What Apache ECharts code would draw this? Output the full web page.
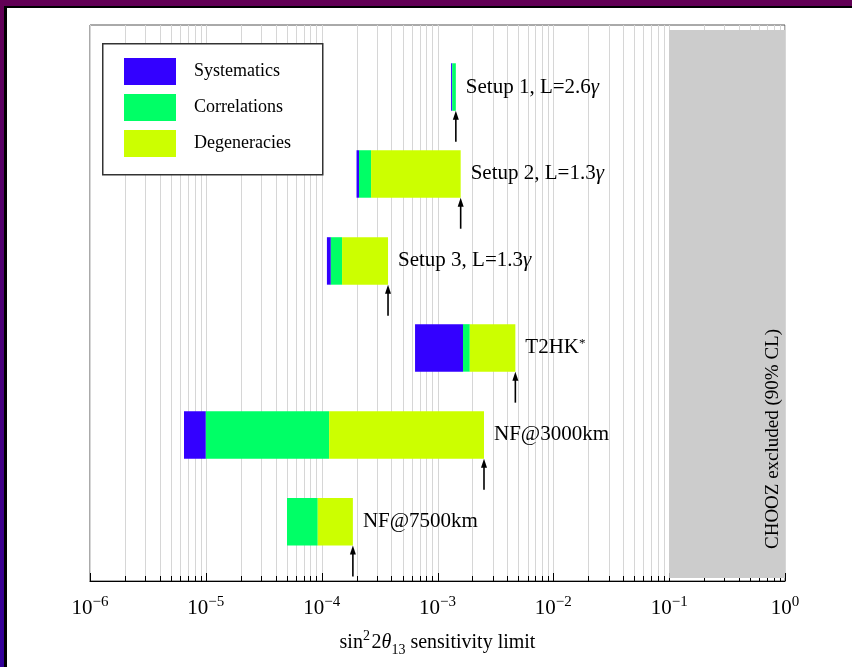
<!DOCTYPE html>
<html><head><meta charset="utf-8">
<script src="https://cdn.jsdelivr.net/npm/echarts@6/dist/echarts.min.js"></script>
<style>
html,body{margin:0;padding:0;width:852px;height:667px;overflow:hidden;background:#fff}
#frame{position:absolute;left:0;top:0;width:852px;height:667px;background:linear-gradient(to bottom,#620055,#32009a)}
#inner{position:absolute;left:4px;top:6px;right:0;bottom:0;box-sizing:border-box;background:#fff;border-top:2px solid #000;border-left:3px solid #000}
#chart{position:absolute;left:0;top:0;width:852px;height:667px}
</style></head><body>
<div id="frame"><div id="inner"></div></div>
<div id="chart"></div>
<script>
// ---- data ----
const setupNames = ['Setup 1, L=2.6{g|γ}', 'Setup 2, L=1.3{g|γ}', 'Setup 3, L=1.3{g|γ}', 'T2HK{sup|*}', 'NF@3000km', 'NF@7500km'];
const statLimit = [1.31e-3, 2.00e-4, 1.11e-4, 6.40e-4, 6.48e-6, 5.02e-5];
const systLimit = [1.34e-3, 2.10e-4, 1.20e-4, 1.66e-3, 1.00e-5, 5.02e-5];
const corrLimit = [1.44e-3, 2.67e-4, 1.50e-4, 1.90e-3, 1.16e-4, 9.25e-5];
const degLimit  = [1.44e-3, 1.585e-3, 3.74e-4, 4.70e-3, 2.52e-3, 1.86e-4];
const seriesNames = ['Systematics', 'Correlations', 'Degeneracies'];
const choozRange = [0.1, 1];
const xTickExponents = [-6, -5, -4, -3, -2, -1, 0];

const FONT = "'Liberation Serif','Times New Roman',serif";
const colors = ['#3300ff', '#00ff66', '#ccff00'];
const BAR_HALF = 0.273;

const chart = echarts.init(document.getElementById('chart'), null, {renderer: 'canvas'});

function segData(a, b) { return a.map((v, i) => [v, b[i], i]); }

function segRender(params, api) {
  const y = api.value(2);
  const p0 = api.coord([api.value(0), y - BAR_HALF]);
  const p1 = api.coord([api.value(1), y + BAR_HALF]);
  return {
    type: 'rect',
    shape: {x: p0[0], y: Math.min(p0[1], p1[1]), width: p1[0] - p0[0], height: Math.abs(p1[1] - p0[1])},
    style: {fill: api.visual('color')}
  };
}

// minor/major grid positions along the log axis
const gridVals = [];
for (let i = 0; i < xTickExponents.length - 1; i++) {
  for (let m = 1; m <= 9; m++) gridVals.push([m * Math.pow(10, xTickExponents[i]), m === 1 ? 1 : 0]);
}
gridVals.push([Math.pow(10, xTickExponents[xTickExponents.length - 1]), 1]);

const option = {
  animation: false,
  grid: {left: 90, top: 25, width: 695, height: 556, show: true, borderColor: '#555', borderWidth: 1, backgroundColor: 'transparent'},
  xAxis: {
    type: 'log', logBase: 10, min: 1e-6, max: 1, splitNumber: 6,
    axisLine: {show: true, onZero: false, lineStyle: {color: '#000', width: 1.2}},
    axisTick: {show: false},
    splitLine: {show: false},
    axisLabel: {
      margin: 14, color: '#000', fontFamily: FONT, fontSize: 21, lineHeight: 26,
      formatter: function (v) {
        const e = Math.round(Math.log10(v));
        return '10{sup|' + (e < 0 ? '\u2212' + (-e) : e) + '}';
      },
      rich: {sup: {fontFamily: FONT, fontSize: 15, lineHeight: 14, verticalAlign: 'top', color: '#000'}}
    },
    name: 'sin{sup|2}\u200a2{it|θ}{sub|13} sensitivity limit',
    nameLocation: 'middle', nameGap: 48,
    nameTextStyle: {
      color: '#000', fontFamily: FONT, fontSize: 20, lineHeight: 28,
      rich: {
        sup: {fontFamily: FONT, fontSize: 14, lineHeight: 12, verticalAlign: 'top', color: '#000'},
        sub: {fontFamily: FONT, fontSize: 14, lineHeight: 14, verticalAlign: 'bottom', color: '#000'},
        it: {fontFamily: FONT, fontSize: 20, fontStyle: 'italic', color: '#000'}
      }
    }
  },
  yAxis: {type: 'value', min: -0.713, max: 5.680, inverse: true, show: false},
  legend: {
    data: seriesNames, orient: 'vertical', left: 124, top: 58, padding: 0, z: 10,
    itemWidth: 52, itemHeight: 27, itemGap: 9, icon: 'rect', selectedMode: false,
    textStyle: {fontFamily: FONT, fontSize: 18, color: '#000', padding: [0, 0, 0, 13]}
  },
  graphic: [
    {type: 'rect', left: 102, top: 43, z: 5, shape: {width: 220, height: 131},
     style: {fill: '#fff', stroke: '#333', lineWidth: 1.5}},
    {type: 'text', x: 773, y: 439, rotation: Math.PI / 2, z: 5,
     style: {text: 'CHOOZ excluded (90% CL)', font: '19px ' + FONT, fill: '#000', align: 'center', verticalAlign: 'middle'}}
  ],
  series: [
    {
      type: 'custom', name: 'grid', z: 1, silent: true,
      data: gridVals, encode: {x: 0},
      renderItem: function (params, api) {
        const cs = params.coordSys;
        const x = Math.round(api.coord([api.value(0), 0])[0]) + 0.5;
        const len = api.value(1) ? 8 : 5;
        return {type: 'group', children: [
          {type: 'line', shape: {x1: x, y1: cs.y, x2: x, y2: cs.y + cs.height}, style: {stroke: '#d6d6d6', lineWidth: 1}},
          {type: 'line', z2: 50, shape: {x1: x, y1: cs.y + cs.height, x2: x, y2: cs.y + cs.height - len}, style: {stroke: '#000', lineWidth: 1}}
        ]};
      }
    },
    {
      type: 'custom', name: 'chooz', z: 2, silent: true,
      data: [choozRange], encode: {x: [0, 1]},
      renderItem: function (params, api) {
        const cs = params.coordSys;
        const x0 = api.coord([api.value(0), 0])[0];
        const x1 = api.coord([api.value(1), 0])[0];
        return {type: 'rect', shape: {x: x0, y: cs.y + 5, width: x1 - x0, height: cs.height - 8}, style: {fill: '#cccccc'}};
      }
    },
    {type: 'custom', name: seriesNames[0], z: 3, color: colors[0], itemStyle: {color: colors[0]},
     data: segData(statLimit, systLimit), encode: {x: [0, 1], y: 2}, renderItem: segRender},
    {type: 'custom', name: seriesNames[1], z: 3, color: colors[1], itemStyle: {color: colors[1]},
     data: segData(systLimit, corrLimit), encode: {x: [0, 1], y: 2}, renderItem: segRender},
    {type: 'custom', name: seriesNames[2], z: 3, color: colors[2], itemStyle: {color: colors[2]},
     data: segData(corrLimit, degLimit), encode: {x: [0, 1], y: 2}, renderItem: segRender},
    {
      type: 'custom', name: 'arrows', z: 4, silent: true,
      data: degLimit.map((v, i) => [v, i]), encode: {x: 0, y: 1},
      renderItem: function (params, api) {
        const i = api.value(1);
        const pc = api.coord([api.value(0), i]);
        const pb = api.coord([api.value(0), i + BAR_HALF]);
        const x = pc[0], yb = pb[1];
        return {type: 'group', children: [
          {type: 'line', shape: {x1: x, y1: yb + 6, x2: x, y2: yb + 31}, style: {stroke: '#000', lineWidth: 1.6}},
          {type: 'polygon', shape: {points: [[x, yb], [x - 3, yb + 9], [x + 3, yb + 9]]}, style: {fill: '#000'}},
          {type: 'text', style: {
            x: x + 10, y: pc[1], text: setupNames[params.dataIndex], align: 'left', verticalAlign: 'middle',
            font: '21px ' + FONT, fill: '#000',
            rich: {
              g: {fontFamily: FONT, fontSize: 21, fontStyle: 'italic', fill: '#000'},
              sup: {fontFamily: FONT, fontSize: 13, verticalAlign: 'top', lineHeight: 12, fill: '#000'}
            }
          }}
        ]};
      }
    }
  ]
};
chart.setOption(option);
</script>
</body></html>
